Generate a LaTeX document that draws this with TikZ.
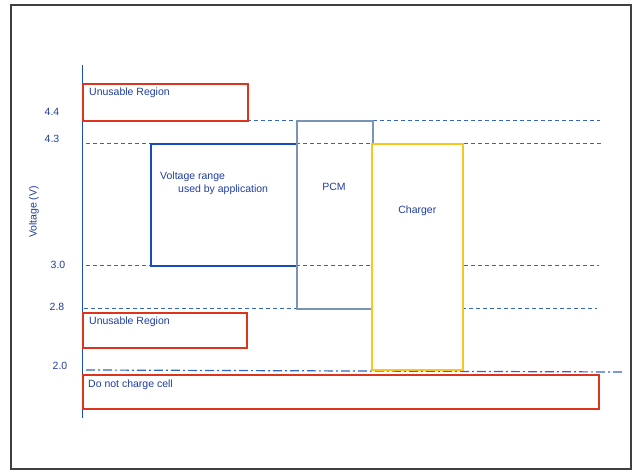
\documentclass[tikz,border=0pt]{standalone}
\usepackage{fontspec}
\setmainfont{Liberation Sans}
\usetikzlibrary{positioning}
\definecolor{txtblue}{RGB}{30,60,160}
\definecolor{lineblue}{RGB}{50,100,200}
\definecolor{boxred}{RGB}{222,52,30}
\definecolor{pcmgrey}{RGB}{120,150,180}
\definecolor{chgyellow}{RGB}{246,200,30}
\definecolor{rangeblue}{RGB}{25,75,190}

\begin{document}
\begin{tikzpicture}[x=1pt, y=-1pt,
    font=\fontsize{10.5}{12.5}\selectfont,
    region/.style={draw=boxred, line width=1.6pt, inner sep=0pt, anchor=north west},
    band/.style={line width=1.6pt, inner sep=0pt, anchor=north west},
    txt/.style={text=txtblue, inner sep=0pt, anchor=north west, align=left},
    tick/.style={text=txtblue, inner sep=0pt},
    level/.style={draw=lineblue, line width=0.7pt, dash pattern=on 4pt off 3pt}
  ]
  \useasboundingbox (0,0) rectangle (633,470);
  \draw[black!75, line width=1.3pt] (11,5) rectangle (631,469);

  % voltage axis
  \coordinate (axtop) at (82,65);
  \coordinate (axbot) at (82,418);
  \draw[rangeblue, line width=1pt] (axtop) -- (axbot);
  \node[tick, rotate=90] (vlabel) at (34,212) {Voltage (V)};

  % levels
  \node[tick] (t44) at (52,112) {4.4};
  \node[tick] (t43) at (52,139) {4.3};
  \node[tick] (t30) at (58,265) {3.0};
  \node[tick] (t28) at (57,307) {2.8};
  \node[tick] (t20) at (60,366) {2.0};
  \draw[level] (247,120) -- (600,120);
  \draw[level] (86,143) -- (603,143);
  \draw[level] (86,265) -- (599,265);
  \draw[level] (84,308) -- (597,308);
  \draw[lineblue, line width=1.2pt, dash pattern=on 9pt off 3pt on 2pt off 3pt]
    (86,370) -- (622,372);

  % regions
  \node[region, minimum width=165pt, minimum height=37pt] (unusTop) at (82,83) {};
  \node[txt] at ([shift={(7,5)}]unusTop.north west) {Unusable Region};
  \node[region, minimum width=164pt, minimum height=35pt] (unusBot) at (82,312) {};
  \node[txt] at ([shift={(7,5)}]unusBot.north west) {Unusable Region};
  \node[region, minimum width=516pt, minimum height=34pt] (nocharge) at (82,374) {};
  \node[txt] at ([shift={(6,6)}]nocharge.north west) {Do not charge cell};

  \node[band, draw=rangeblue, minimum width=146pt, minimum height=122pt] (range) at (150,143) {};
  \node[txt] at ([shift={(10,29)}]range.north west) {Voltage range\\\hspace*{18pt}used by application};
  \node[band, draw=pcmgrey, minimum width=76pt, minimum height=188pt] (pcm) at (296,120) {};
  \node[tick] at (334,187) {PCM};
  \node[band, draw=chgyellow, fill=white, minimum width=91pt, minimum height=226pt] (charger) at (371,143) {};
  \node[tick] at (charger.center |- 0,211) {Charger};
\end{tikzpicture}
\end{document}
